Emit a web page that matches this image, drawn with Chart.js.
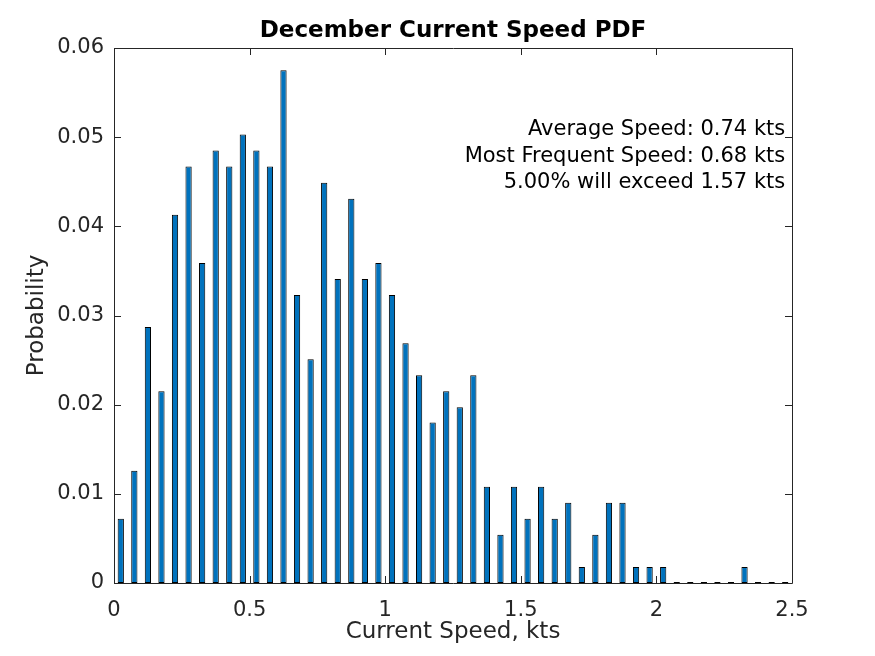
<!DOCTYPE html>
<html>
<head>
<meta charset="utf-8">
<script src="https://cdn.jsdelivr.net/npm/chart.js@4"></script>
<style>
  html, body { margin: 0; padding: 0; background: #fff; }
  #wrap { width: 875px; height: 656px; }
</style>
</head>
<body>
<div id="wrap"><canvas id="pdfChart" width="875" height="656"></canvas></div>
<script>
// bin centres (kts) and probability per bin
const binCenters = [
  0.025, 0.075, 0.125, 0.175, 0.225, 0.275, 0.325, 0.375, 0.425, 0.475,
  0.525, 0.575, 0.625, 0.675, 0.725, 0.775, 0.825, 0.875, 0.925, 0.975,
  1.025, 1.075, 1.125, 1.175, 1.225, 1.275, 1.325, 1.375, 1.425, 1.475,
  1.525, 1.575, 1.625, 1.675, 1.725, 1.775, 1.825, 1.875, 1.925, 1.975,
  2.025, 2.075, 2.125, 2.175, 2.225, 2.275, 2.325, 2.375, 2.425, 2.475
];
const probability = [
  0.0072, 0.0126, 0.0287, 0.0215, 0.0413, 0.0467, 0.0359, 0.0485, 0.0467, 0.0503,
  0.0485, 0.0467, 0.0575, 0.0323, 0.0251, 0.0449, 0.0341, 0.0431, 0.0341, 0.0359,
  0.0323, 0.0269, 0.0233, 0.0180, 0.0215, 0.0197, 0.0233, 0.0108, 0.0054, 0.0108,
  0.0072, 0.0108, 0.0072, 0.0090, 0.0018, 0.0054, 0.0090, 0.0090, 0.0018, 0.0018,
  0.0018, 0, 0, 0, 0, 0, 0.0018, 0, 0, 0
];
const xTicks = [0, 0.5, 1, 1.5, 2, 2.5];
const yTicks = [0, 0.01, 0.02, 0.03, 0.04, 0.05, 0.06];
const notes = [
  'Average Speed: 0.74 kts',
  'Most Frequent Speed: 0.68 kts',
  '5.00% will exceed 1.57 kts'
];

const FONT = 'DejaVu Sans, sans-serif';
const AX = '#262626';

// box, inward ticks, titles and text notes (matlab look)
const matlabAxes = {
  id: 'matlabAxes',
  afterDraw(chart){
    const ctx = chart.ctx, a = chart.chartArea;
    const sx = chart.scales.x, sy = chart.scales.y;
    ctx.save();
    ctx.strokeStyle = AX;
    ctx.lineWidth = 1;
    ctx.beginPath();
    ctx.rect(Math.round(a.left) + 0.5, Math.round(a.top) + 0.5,
             Math.round(a.right - a.left), Math.round(a.bottom - a.top));
    const tl = 7;
    xTicks.forEach(v => {
      const px = Math.round(sx.getPixelForValue(v)) + 0.5;
      ctx.moveTo(px, a.bottom); ctx.lineTo(px, a.bottom - tl);
      ctx.moveTo(px, a.top); ctx.lineTo(px, a.top + tl);
    });
    yTicks.forEach(v => {
      const py = Math.round(sy.getPixelForValue(v)) + 0.5;
      ctx.moveTo(a.left, py); ctx.lineTo(a.left + tl, py);
      ctx.moveTo(a.right, py); ctx.lineTo(a.right - tl, py);
    });
    ctx.stroke();

    const cx = (a.left + a.right) / 2;
    ctx.fillStyle = '#000';
    ctx.font = 'bold 23px ' + FONT;
    ctx.textAlign = 'center';
    ctx.textBaseline = 'middle';
    ctx.fillText('December Current Speed PDF', cx, 31);

    ctx.fillStyle = AX;
    ctx.font = '23px ' + FONT;
    ctx.fillText('Current Speed, kts', cx, 632);
    ctx.save();
    ctx.translate(37, (a.top + a.bottom) / 2);
    ctx.rotate(-Math.PI / 2);
    ctx.fillText('Probability', 0, 0);
    ctx.restore();

    ctx.fillStyle = '#000';
    ctx.font = '21px ' + FONT;
    ctx.textAlign = 'right';
    const nx = sx.getPixelForValue(2.475);
    notes.forEach((t, i) => ctx.fillText(t, nx, 130 + i * 26.5));
    ctx.restore();
  }
};

new Chart(document.getElementById('pdfChart').getContext('2d'), {
  type: 'bar',
  data: {
    datasets: [{
      data: binCenters.map((x, i) => ({ x: x, y: probability[i] })),
      backgroundColor: '#0072BD',
      borderColor: '#000',
      borderWidth: 1,
      borderSkipped: false,
      minBarLength: 1,
      barPercentage: 0.46,
      categoryPercentage: 1
    }]
  },
  options: {
    responsive: false,
    animation: false,
    devicePixelRatio: 1,
    layout: { padding: { top: 48, right: 83, left: 0, bottom: 0 } },
    plugins: { legend: { display: false }, title: { display: false }, tooltip: { enabled: false } },
    scales: {
      x: {
        type: 'linear', min: 0, max: 2.5, offset: false,
        grid: { display: false }, border: { display: false },
        ticks: { stepSize: 0.5, color: AX, padding: 7, maxRotation: 0,
                 font: { family: FONT, size: 21 },
                 callback: v => String(v) },
        afterFit(s){ s.height = 73; }
      },
      y: {
        min: 0, max: 0.06,
        grid: { display: false }, border: { display: false },
        ticks: { stepSize: 0.01, color: AX, padding: 2,
                 font: { family: FONT, size: 21 },
                 callback: v => String(v) },
        afterFit(s){ s.width = 114; }
      }
    }
  },
  plugins: [matlabAxes]
});
</script>
</body>
</html>
